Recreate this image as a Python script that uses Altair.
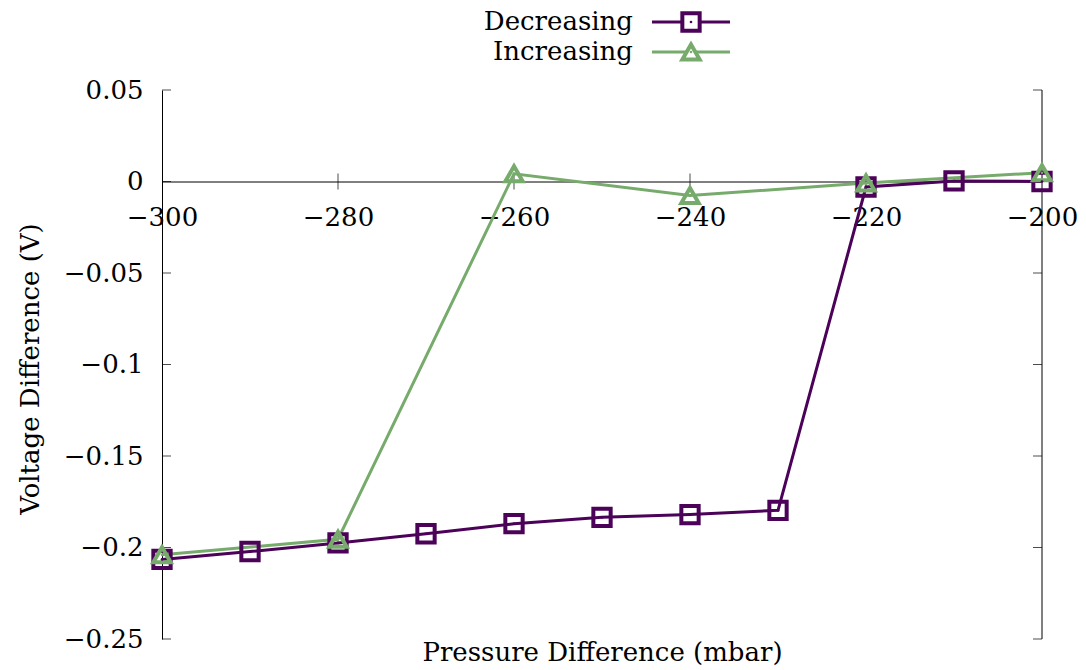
import altair as alt
import pandas as pd

# ---- data ----
dec_x = [-300, -290, -280, -270, -260, -250, -240, -230, -220, -210, -200]
dec_y = [-0.2065, -0.2022, -0.1975, -0.1925, -0.187, -0.1835, -0.182, -0.1797, -0.003, 0.0003, 0.0]
inc_x = [-300, -280, -260, -240, -220, -200]
inc_y = [-0.204, -0.1955, 0.0042, -0.0077, -0.0008, 0.0048]
series_names = ["Decreasing", "Increasing"]
series_colors = ["#4b0258", "#77ab6c"]
series_shapes = ["square", "triangle-up"]
x_ticks = [-300, -280, -260, -240, -220, -200]
y_ticks = [0.05, 0, -0.05, -0.1, -0.15, -0.2, -0.25]

FONT = "DejaVu Serif"
FS = 26
W, H = 880, 549
ZERO_PX = H * (0.05 - 0) / (0.05 - (-0.25))  # pixel of y=0 from top

df = pd.concat([
    pd.DataFrame({"series": series_names[0], "x": dec_x, "y": dec_y}),
    pd.DataFrame({"series": series_names[1], "x": inc_x, "y": inc_y}),
], ignore_index=True)

xs = alt.Scale(domain=[x_ticks[0], x_ticks[-1]], nice=False, zero=False)
ys = alt.Scale(domain=[y_ticks[-1], y_ticks[0]], nice=False, zero=False)
cs = alt.Scale(domain=series_names, range=series_colors)
ss = alt.Scale(domain=series_names, range=series_shapes)

base = alt.Chart(df)

x_axis = alt.Axis(
    orient="bottom", offset=-(H - ZERO_PX), values=x_ticks, ticks=False,
    domain=True, domainColor="black", domainWidth=1, grid=False,
    labelFont=FONT, labelFontSize=FS, labelColor="black", labelPadding=23,
    labelFlush=False, labelOverlap=False, labelBound=False, format="~g",
    title="Pressure Difference (mbar)", titleFont=FONT, titleFontSize=FS,
    titleFontWeight="normal", titleColor="black",
    titleX=W / 2, titleY=(H - ZERO_PX) + 13, titleBaseline="middle", titleAlign="center",
)
y_axis = alt.Axis(
    orient="left", values=y_ticks, ticks=False, domain=True, domainColor="black",
    domainWidth=1, grid=False, labelFont=FONT, labelFontSize=FS, labelColor="black",
    labelPadding=19, labelFlush=False, labelOverlap=False, labelBound=False, format="~g",
    title="Voltage Difference (V)", titleFont=FONT, titleFontSize=FS,
    titleFontWeight="normal", titleColor="black", titleAngle=-90,
    titleX=-132, titleY=H / 2 + 4, titleBaseline="middle", titleAlign="center",
)

lines = base.mark_line(strokeWidth=3).encode(
    x=alt.X("x:Q", scale=xs, axis=x_axis),
    y=alt.Y("y:Q", scale=ys, axis=y_axis),
    color=alt.Color("series:N", scale=cs, legend=None),
    detail="series:N",
)
points = base.mark_point(filled=False, size=300, strokeWidth=4, opacity=1).encode(
    x=alt.X("x:Q", scale=xs), y=alt.Y("y:Q", scale=ys),
    color=alt.Color("series:N", scale=cs, legend=None),
    shape=alt.Shape("series:N", scale=ss, legend=None),
)
dots = base.mark_circle(size=7, opacity=1).encode(
    x=alt.X("x:Q", scale=xs), y=alt.Y("y:Q", scale=ys),
    color=alt.Color("series:N", scale=cs, legend=None),
)

# frame pieces
right_df = pd.DataFrame({"x": [x_ticks[-1]], "y": [y_ticks[-1]], "y2": [y_ticks[0]]})
right_line = alt.Chart(right_df).mark_rule(color="black", strokeWidth=1).encode(
    x=alt.X("x:Q", scale=xs), y=alt.Y("y:Q", scale=ys), y2="y2:Q")

yt_left = pd.DataFrame({"x": [x_ticks[0]] * len(y_ticks), "y": y_ticks})
yt_right = pd.DataFrame({"x": [x_ticks[-1]] * len(y_ticks), "y": y_ticks})
ticks_left = alt.Chart(yt_left).mark_tick(orient="horizontal", size=9, thickness=1,
                                          color="black", xOffset=4.5).encode(
    x=alt.X("x:Q", scale=xs), y=alt.Y("y:Q", scale=ys))
ticks_right = alt.Chart(yt_right).mark_tick(orient="horizontal", size=9, thickness=1,
                                            color="black", xOffset=-4.5).encode(
    x=alt.X("x:Q", scale=xs), y=alt.Y("y:Q", scale=ys))
xt = pd.DataFrame({"x": x_ticks[1:-1], "y": [0] * (len(x_ticks) - 2)})
ticks_x = alt.Chart(xt).mark_tick(orient="vertical", size=16, thickness=1,
                                  color="black").encode(
    x=alt.X("x:Q", scale=xs), y=alt.Y("y:Q", scale=ys))

# manual key (label left, sample right), as in the reference
legend_layers = []
for i, (name, col, shp) in enumerate(zip(series_names, series_colors, series_shapes)):
    ld = pd.DataFrame({"series": [name]})
    ypos = -68 + 30 * i
    legend_layers.append(alt.Chart(ld).mark_text(
        align="right", baseline="middle", font=FONT, fontSize=FS, color="black").encode(
        x=alt.value(471), y=alt.value(ypos), text="series:N"))
    legend_layers.append(alt.Chart(ld).mark_rule(color=col, strokeWidth=3).encode(
        x=alt.value(490), x2=alt.value(568), y=alt.value(ypos)))
    legend_layers.append(alt.Chart(ld).mark_point(
        shape=shp, filled=False, size=300, strokeWidth=4, color=col, opacity=1,
        fill="white").encode(x=alt.value(529), y=alt.value(ypos)))
    legend_layers.append(alt.Chart(ld).mark_circle(size=7, color=col, opacity=1).encode(
        x=alt.value(529), y=alt.value(ypos)))

chart = alt.layer(
    right_line, ticks_left, ticks_right, ticks_x, lines, points, dots, *legend_layers
).properties(
    width=W, height=H,
    autosize=alt.AutoSizeParams(type="none"),
    padding={"left": 162, "top": 90, "right": 44, "bottom": 31},
    background="white",
).configure_view(stroke=None)

chart.save("out.html", embed_options={"renderer": "svg", "actions": False})
